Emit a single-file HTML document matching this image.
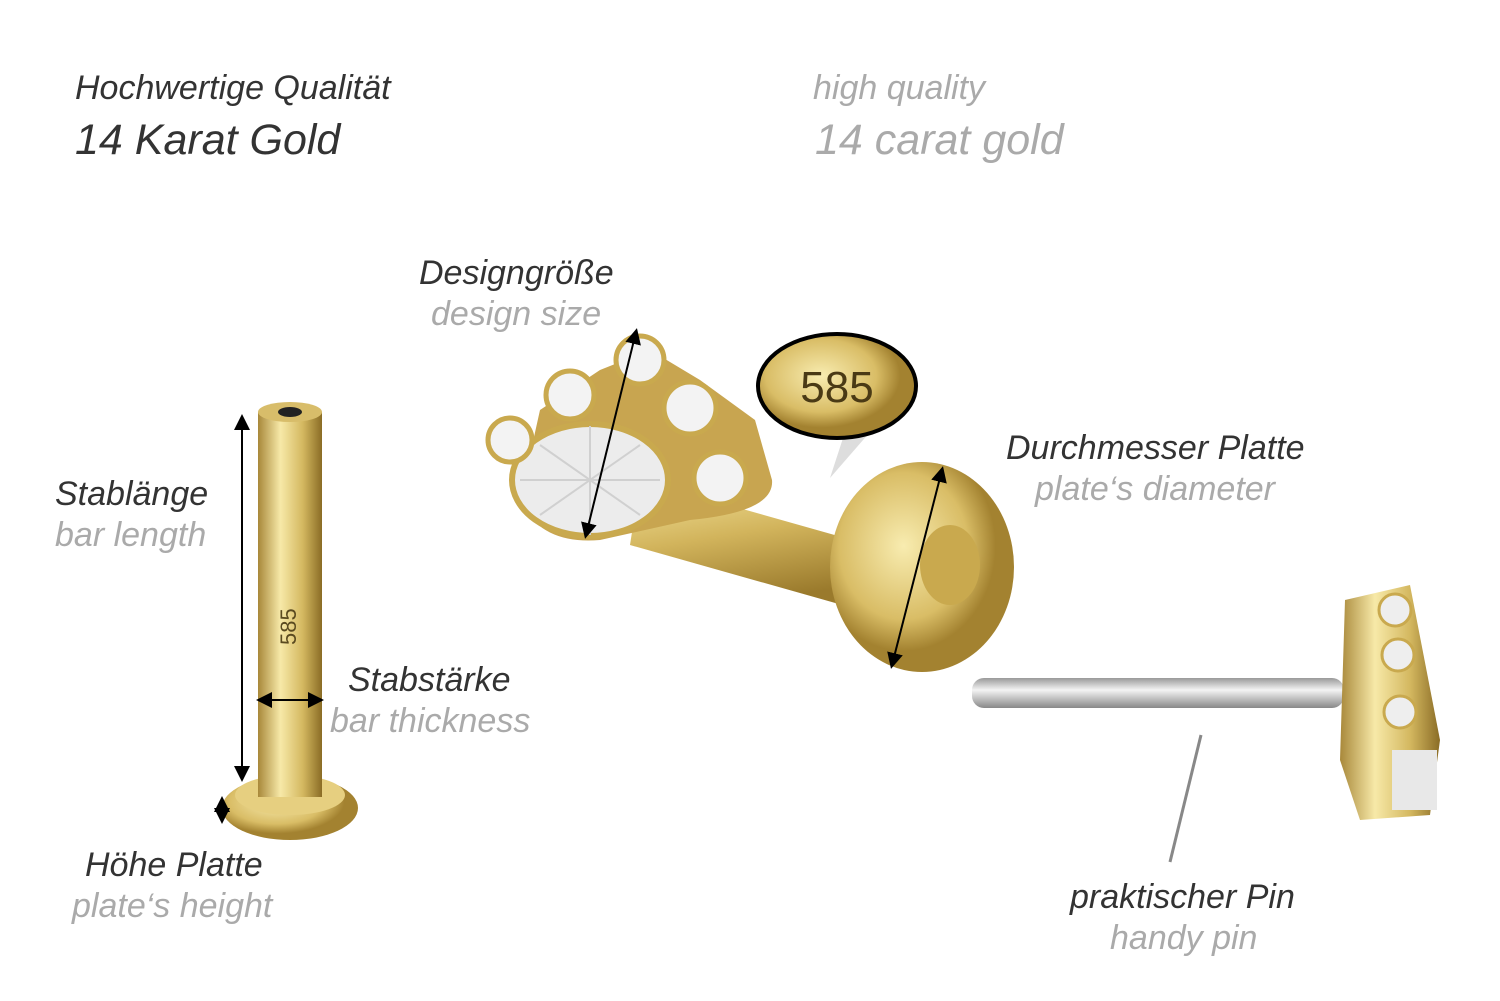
<!DOCTYPE html>
<html><head><meta charset="utf-8"><style>
body{margin:0;width:1500px;height:1001px;background:#fff;position:relative;overflow:hidden;font-family:"Liberation Sans",sans-serif;font-style:italic}
.t{position:absolute;white-space:nowrap}
.d{color:#333}.g{color:#aaa}
.l{font-size:34px}
</style></head><body>
<div class="t d" style="left:75px;top:69px;font-size:34px">Hochwertige Qualität</div>
<div class="t d" style="left:75px;top:116px;font-size:43px">14 Karat Gold</div>
<div class="t g" style="left:813px;top:69px;font-size:34px">high quality</div>
<div class="t g" style="left:815px;top:116px;font-size:43px">14 carat gold</div>

<div class="t d l" style="left:419px;top:254px">Designgröße</div>
<div class="t g l" style="left:431px;top:295px">design size</div>
<div class="t d l" style="left:55px;top:475px">Stablänge</div>
<div class="t g l" style="left:55px;top:516px">bar length</div>
<div class="t d l" style="left:348px;top:661px">Stabstärke</div>
<div class="t g l" style="left:330px;top:702px">bar thickness</div>
<div class="t d l" style="left:85px;top:846px">Höhe Platte</div>
<div class="t g l" style="left:72px;top:887px">plate‘s height</div>
<div class="t d l" style="left:1006px;top:429px">Durchmesser Platte</div>
<div class="t g l" style="left:1035px;top:470px">plate‘s diameter</div>
<div class="t d l" style="left:1070px;top:878px">praktischer Pin</div>
<div class="t g l" style="left:1110px;top:919px">handy pin</div>

<svg width="1500" height="1001" style="position:absolute;left:0;top:0">
<defs>
<linearGradient id="gv" x1="0" x2="1"><stop offset="0" stop-color="#a8883a"/><stop offset=".35" stop-color="#f7e9a8"/><stop offset=".7" stop-color="#d4b860"/><stop offset="1" stop-color="#8a6c25"/></linearGradient>
<radialGradient id="gr" cx=".4" cy=".4"><stop offset="0" stop-color="#f8ecb0"/><stop offset=".7" stop-color="#d9bd66"/><stop offset="1" stop-color="#a38230"/></radialGradient>
<linearGradient id="sv" x1="0" y1="0" x2="0" y2="1"><stop offset="0" stop-color="#999"/><stop offset=".4" stop-color="#f4f4f4"/><stop offset="1" stop-color="#888"/></linearGradient>
<linearGradient id="bar2" x1="0" y1="0" x2="0.3" y2="1"><stop offset="0" stop-color="#f5e6a0"/><stop offset=".5" stop-color="#d2b45c"/><stop offset="1" stop-color="#9a7a2c"/></linearGradient>
<marker id="a" markerWidth="8" markerHeight="8" refX="6" refY="4" orient="auto-start-reverse"><path d="M0,0L8,4L0,8z" fill="#000"/></marker>
</defs>
<ellipse cx="290" cy="808" rx="68" ry="32" fill="url(#gr)"/>
<ellipse cx="290" cy="795" rx="55" ry="20" fill="#e6cf80"/>
<rect x="258" y="412" width="64" height="385" fill="url(#gv)"/>
<ellipse cx="290" cy="412" rx="32" ry="10" fill="#d8bd6a"/>
<ellipse cx="290" cy="412" rx="12" ry="5" fill="#222"/>
<text x="0" y="0" transform="translate(296,645) rotate(-90)" font-family="Liberation Sans" font-size="22" fill="#5a4a20" font-style="normal">585</text>
<line x1="242" y1="418" x2="242" y2="778" stroke="#000" stroke-width="2" marker-start="url(#a)" marker-end="url(#a)"/>
<line x1="260" y1="700" x2="320" y2="700" stroke="#000" stroke-width="2" marker-start="url(#a)" marker-end="url(#a)"/>
<line x1="222" y1="800" x2="222" y2="820" stroke="#000" stroke-width="2" marker-start="url(#a)" marker-end="url(#a)"/>
<polygon points="640,480 870,545 860,610 630,545" fill="url(#bar2)"/>
<ellipse cx="922" cy="567" rx="92" ry="105" fill="url(#gr)"/>
<ellipse cx="950" cy="565" rx="30" ry="40" fill="#c9a94e"/>
<line x1="942" y1="470" x2="892" y2="665" stroke="#000" stroke-width="2" marker-start="url(#a)" marker-end="url(#a)"/>
<path d="M520,500 Q540,545 600,540 L690,520 Q775,512 772,480 L755,420 L700,380 L650,350 L600,370 L540,410z" fill="#c8a550"/>
<ellipse cx="590" cy="480" rx="78" ry="56" fill="#ececec" stroke="#c9a94e" stroke-width="6"/>
<path d="M520,480 L660,480 M590,426 L590,535 M540,445 L640,515 M540,515 L640,445" stroke="#d0d0d0" stroke-width="2"/>
<circle cx="510" cy="440" r="22" fill="#f3f3f3" stroke="#c9a94e" stroke-width="5"/>
<circle cx="570" cy="395" r="24" fill="#f3f3f3" stroke="#c9a94e" stroke-width="5"/>
<circle cx="640" cy="360" r="24" fill="#f3f3f3" stroke="#c9a94e" stroke-width="5"/>
<circle cx="690" cy="408" r="26" fill="#f3f3f3" stroke="#c9a94e" stroke-width="5"/>
<circle cx="720" cy="478" r="26" fill="#f3f3f3" stroke="#c9a94e" stroke-width="5"/>
<line x1="636" y1="332" x2="586" y2="535" stroke="#000" stroke-width="2" marker-start="url(#a)" marker-end="url(#a)"/>
<polygon points="830,478 845,432 870,432" fill="#ddd"/>
<ellipse cx="837" cy="386" rx="79" ry="52" fill="url(#gr)" stroke="#000" stroke-width="4"/>
<text x="837" y="402" text-anchor="middle" font-family="Liberation Sans" font-size="44" font-style="normal" fill="#4a3a15">585</text>
<rect x="972" y="678" width="372" height="30" rx="12" fill="url(#sv)"/>
<path d="M1345,600 L1410,585 L1440,740 L1430,815 L1360,820 L1340,760z" fill="url(#gv)"/>
<circle cx="1395" cy="610" r="16" fill="#eee" stroke="#c9a94e" stroke-width="3"/>
<circle cx="1398" cy="655" r="16" fill="#eee" stroke="#c9a94e" stroke-width="3"/>
<circle cx="1400" cy="712" r="16" fill="#eee" stroke="#c9a94e" stroke-width="3"/>
<rect x="1392" y="750" width="45" height="60" fill="#e8e8e8"/>
<line x1="1201" y1="735" x2="1170" y2="862" stroke="#888" stroke-width="3"/>
</svg>
</body></html>
